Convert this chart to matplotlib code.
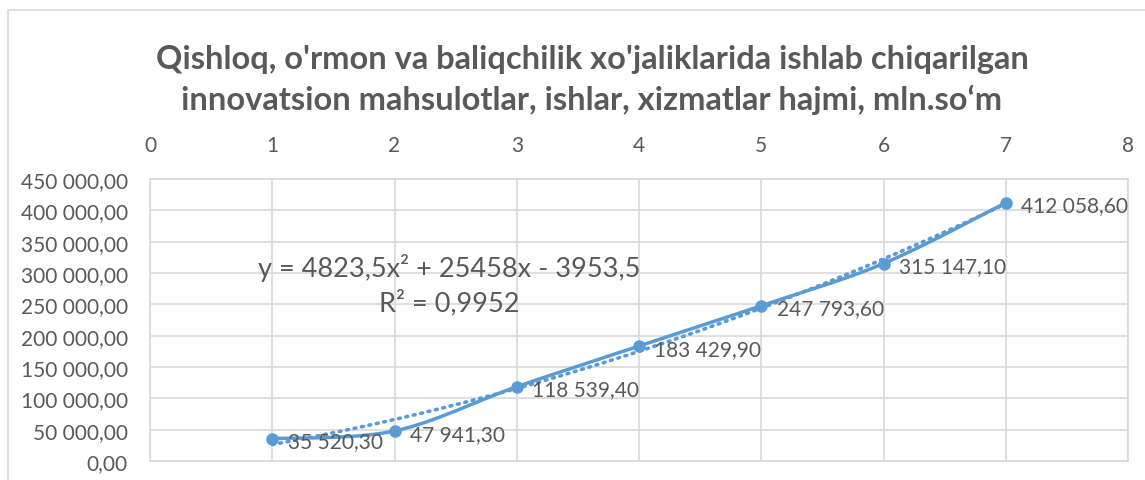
import numpy as np
import matplotlib
matplotlib.use("Agg")
import matplotlib.pyplot as plt
from matplotlib.patches import Rectangle

# ---- data ----
x_vals = [1, 2, 3, 4, 5, 6, 7]
y_vals = [35520.30, 47941.30, 118539.40, 183429.90, 247793.60, 315147.10, 412058.60]
x_ticks = [0, 1, 2, 3, 4, 5, 6, 7, 8]
y_ticks = [0, 50000, 100000, 150000, 200000, 250000, 300000, 350000, 400000, 450000]
title = "Qishloq, o'rmon va baliqchilik xo'jaliklarida ishlab chiqarilgan\ninnovatsion mahsulotlar, ishlar, xizmatlar hajmi, mln.so\u2018m"
eq_text = "y = 4823,5x\u00b2 + 25458x - 3953,5"
r2_text = "R\u00b2 = 0,9952"

BLUE = "#5B9BD5"
GRAY = "#595959"
GRID = "#D9D9D9"
FONT = "Lato"

plt.rcParams['font.family'] = [FONT, 'DejaVu Sans']

W, H = 1145, 481
fig = plt.figure(figsize=(W / 100, H / 100), dpi=100)

# outer chart border
fig.patches.append(Rectangle((8 / W, -0.1), 1.2, (H - 11) / H + 0.1, transform=fig.transFigure,
                             fill=False, edgecolor="#D9D9D9", linewidth=1.2))

ax = fig.add_axes([150 / W, 1 - 462 / H, (1128 - 150) / W, (462 - 180) / H])
ax.set_xlim(0, 8)
ax.set_ylim(0, 450000)
ax.set_xticks(x_ticks)
ax.set_yticks(y_ticks)
ax.xaxis.tick_top()
ax.set_xticklabels([str(t) for t in x_ticks])


def fmt(v):
    s = f"{v:,.2f}"
    return s.replace(",", " ").replace(".", ",")


ax.set_yticklabels([fmt(t) for t in y_ticks])
ax.tick_params(axis="both", length=0, labelsize=15, labelcolor=GRAY)
ax.tick_params(axis="x", pad=17)
ax.tick_params(axis="y", pad=16)
ax.grid(True, color=GRID, linewidth=1.2)
ax.set_axisbelow(True)
for sp in ax.spines.values():
    sp.set_color(GRID)
    sp.set_linewidth(1.2)

# smooth line (Catmull-Rom / Bezier like Excel)
xa = np.array(x_vals, float)
ya = np.array(y_vals, float)
P = np.column_stack([xa, ya])
Pp = np.vstack([P[0], P, P[-1]])
curve = []
t = np.linspace(0, 1, 40)
for i in range(len(P) - 1):
    p0, p1, p2, p3 = Pp[i], Pp[i + 1], Pp[i + 2], Pp[i + 3]
    c1 = p1 + (p2 - p0) / 6
    c2 = p2 - (p3 - p1) / 6
    seg = ((1 - t) ** 3)[:, None] * p1 + (3 * (1 - t) ** 2 * t)[:, None] * c1 + \
          (3 * (1 - t) * t ** 2)[:, None] * c2 + (t ** 3)[:, None] * p2
    curve.append(seg)
curve = np.vstack(curve)

# trendline (poly 2)
coef = np.polyfit(xa, ya, 2)
xt = np.linspace(xa.min(), xa.max(), 200)
ax.plot(xt, np.polyval(coef, xt), color=BLUE, linewidth=2.6, linestyle=(0, (0.5, 1.6)),
        dash_capstyle="round", zorder=3)

ax.plot(curve[:, 0], curve[:, 1], color=BLUE, linewidth=2.5, zorder=4, solid_capstyle="round")
ax.plot(xa, ya, "o", color=BLUE, markersize=8, zorder=5)

for xv, yv in zip(x_vals, y_vals):
    ax.annotate(fmt(yv), (xv, yv), xytext=(11, -2), textcoords="offset points",
                ha="left", va="center", fontsize=15, color=GRAY, zorder=6)

ax.text(2.45, 309000, eq_text, ha="center", va="center", fontsize=19.5, color=GRAY)
ax.text(2.45, 254000, r2_text, ha="center", va="center", fontsize=19.5, color=GRAY)

fig.text(592 / W, 1 - 80 / H, title, ha="center", va="center", fontsize=23.5,
         fontweight="bold", color=GRAY, linespacing=1.38)

fig.savefig("out.png", dpi=100)
